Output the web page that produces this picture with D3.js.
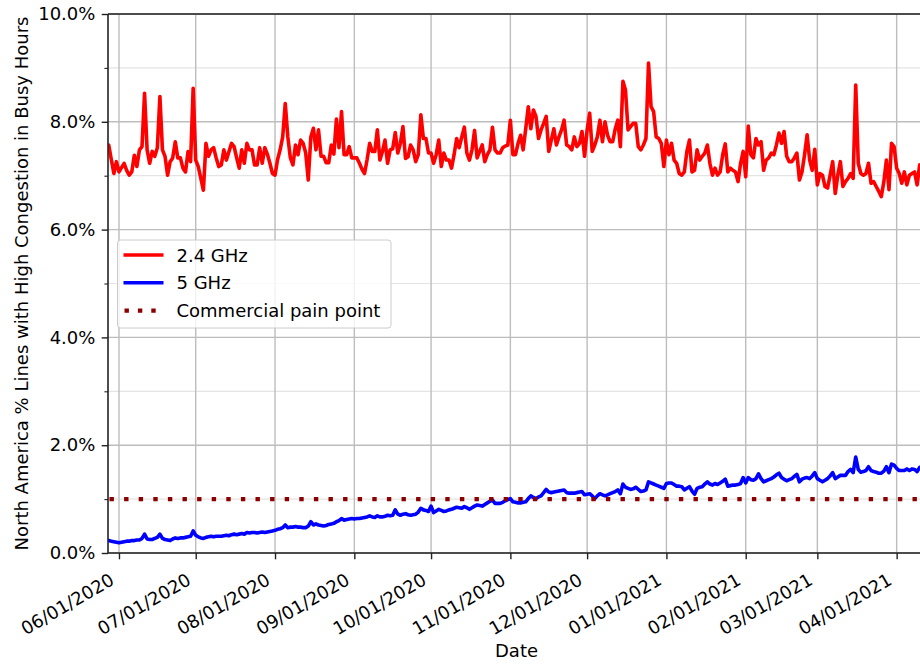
<!DOCTYPE html>
<html>
<head>
<meta charset="utf-8">
<script src="https://cdn.jsdelivr.net/npm/d3@7"></script>
<style>
  html, body { margin: 0; padding: 0; background: #fff; }
  svg { display: block; font-family: "DejaVu Sans", sans-serif; }
</style>
</head>
<body>
<svg id="chart" width="920" height="665"></svg>
<script>
// ---------------- DATA ----------------
const seriesStart = "2020-05-28";          // first daily sample
const axisStart = "2020-05-27T17:00:00Z";  // x-axis limits
const axisEnd = "2021-04-12T02:00:00Z";
const seriesNames = ["2.4 GHz", "5 GHz", "Commercial pain point"];
const yTicks = [0, 2, 4, 6, 8, 10];
const yMinorTicks = [1, 3, 5, 7, 9];
const painPoint = 1.0;

const ghz24 = [
  7.57, 7.30, 7.04, 7.26, 7.07, 7.15, 7.23, 7.10, 7.01, 7.07,
  7.38, 7.17, 7.48, 7.54, 8.53, 7.48, 7.23, 7.45, 7.36, 7.52,
  8.47, 7.48, 7.36, 7.01, 7.26, 7.33, 7.63, 7.33, 7.33, 7.14,
  7.07, 7.45, 7.26, 8.62, 7.29, 7.17, 6.95, 6.73, 7.60, 7.36,
  7.48, 7.52, 7.33, 7.17, 7.20, 7.48, 7.29, 7.45, 7.60, 7.54,
  7.33, 7.14, 7.48, 7.23, 7.60, 7.48, 7.48, 7.20, 7.20, 7.52,
  7.23, 7.52, 7.40, 7.23, 7.04, 7.01, 7.30, 7.48, 7.72, 8.34,
  7.72, 7.33, 7.20, 7.57, 7.39, 7.66, 7.60, 7.42, 6.92, 7.72,
  7.88, 7.48, 7.85, 7.36, 7.36, 7.24, 7.24, 7.57, 7.40, 8.05,
  7.52, 8.19, 7.39, 7.39, 7.54, 7.33, 7.33, 7.33, 7.23, 7.12,
  7.04, 7.30, 7.60, 7.45, 7.45, 7.85, 7.29, 7.45, 7.66, 7.23,
  7.48, 7.50, 7.80, 7.42, 7.60, 7.91, 7.32, 7.35, 7.57, 7.48,
  7.26, 7.39, 8.13, 7.69, 7.69, 7.42, 7.42, 7.23, 7.39, 7.66,
  7.17, 7.42, 7.29, 7.29, 7.14, 7.39, 7.69, 7.52, 7.72, 7.90,
  7.42, 7.29, 7.48, 7.84, 7.33, 7.45, 7.57, 7.26, 7.39, 7.48,
  7.90, 7.48, 7.42, 7.42, 7.52, 7.55, 7.57, 8.03, 7.39, 7.39,
  7.60, 7.75, 7.48, 7.87, 8.28, 7.87, 8.22, 8.10, 7.69, 7.85,
  7.97, 8.10, 7.45, 7.66, 7.87, 7.57, 7.72, 7.85, 8.03, 7.57,
  7.54, 7.48, 7.72, 7.54, 7.60, 7.82, 7.36, 7.85, 8.16, 7.45,
  7.57, 7.72, 8.03, 7.63, 8.00, 7.75, 7.63, 7.63, 7.87, 8.03,
  7.54, 8.75, 8.59, 7.85, 7.91, 7.97, 7.97, 7.54, 7.48, 7.57,
  7.69, 9.09, 8.28, 8.19, 7.72, 7.69, 7.60, 7.17, 7.66, 7.39,
  7.60, 7.29, 7.23, 7.04, 7.01, 7.07, 7.45, 7.66, 7.07, 7.10,
  7.48, 7.29, 7.36, 7.42, 7.57, 7.23, 7.01, 7.14, 7.01, 7.07,
  7.39, 7.59, 7.07, 7.14, 7.10, 7.07, 6.89, 7.23, 7.45, 6.98,
  7.92, 7.39, 7.33, 7.69, 7.57, 7.63, 7.10, 7.29, 7.33, 7.42,
  7.39, 7.57, 7.79, 7.60, 7.82, 7.36, 7.26, 7.26, 7.33, 7.42,
  6.92, 7.07, 7.39, 7.76, 7.29, 7.10, 7.49, 6.83, 7.04, 7.01,
  6.80, 6.77, 7.01, 7.26, 6.67, 7.01, 7.26, 6.80, 6.89, 6.95,
  7.04, 6.95, 8.68, 7.23, 7.04, 7.01, 7.04, 7.23, 6.86, 6.89,
  6.80, 6.71, 6.61, 6.89, 7.29, 6.74, 7.60, 7.54, 7.14, 7.04,
  6.86, 7.07, 6.83, 7.01, 7.04, 7.07, 6.83, 7.20, 7.10
];

const ghz5 = [
  0.23, 0.22, 0.21, 0.20, 0.19, 0.20, 0.21, 0.22, 0.22, 0.23,
  0.23, 0.24, 0.24, 0.27, 0.35, 0.26, 0.25, 0.25, 0.27, 0.29,
  0.35, 0.27, 0.25, 0.24, 0.23, 0.26, 0.28, 0.27, 0.28, 0.28,
  0.29, 0.30, 0.31, 0.41, 0.33, 0.30, 0.28, 0.27, 0.29, 0.30,
  0.31, 0.30, 0.31, 0.31, 0.31, 0.32, 0.33, 0.32, 0.34, 0.35,
  0.34, 0.35, 0.36, 0.35, 0.38, 0.37, 0.38, 0.38, 0.37, 0.38,
  0.39, 0.38, 0.39, 0.40, 0.41, 0.42, 0.44, 0.45, 0.47, 0.52,
  0.47, 0.48, 0.48, 0.49, 0.48, 0.48, 0.47, 0.47, 0.50, 0.58,
  0.52, 0.54, 0.52, 0.51, 0.50, 0.51, 0.53, 0.54, 0.55, 0.58,
  0.60, 0.64, 0.61, 0.62, 0.63, 0.64, 0.63, 0.64, 0.64, 0.65,
  0.66, 0.67, 0.69, 0.67, 0.66, 0.69, 0.67, 0.67, 0.68, 0.70,
  0.69, 0.70, 0.80, 0.72, 0.70, 0.72, 0.73, 0.71, 0.70, 0.71,
  0.72, 0.76, 0.83, 0.80, 0.79, 0.77, 0.87, 0.75, 0.78, 0.81,
  0.79, 0.77, 0.78, 0.80, 0.81, 0.83, 0.85, 0.84, 0.83, 0.86,
  0.84, 0.81, 0.84, 0.87, 0.89, 0.88, 0.87, 0.90, 0.93, 0.96,
  0.98, 0.92, 0.92, 0.92, 0.94, 0.97, 0.99, 1.01, 0.95, 0.94,
  0.93, 0.93, 0.94, 0.95, 1.01, 1.06, 1.03, 1.01, 1.04, 1.06,
  1.12, 1.18, 1.13, 1.12, 1.13, 1.14, 1.15, 1.16, 1.17, 1.12,
  1.11, 1.11, 1.11, 1.12, 1.13, 1.14, 1.08, 1.09, 1.10, 1.06,
  1.01, 1.06, 1.10, 1.08, 1.06, 1.08, 1.10, 1.12, 1.14, 1.17,
  1.10, 1.28, 1.22, 1.20, 1.18, 1.19, 1.22, 1.18, 1.14, 1.15,
  1.17, 1.32, 1.30, 1.28, 1.26, 1.24, 1.22, 1.20, 1.29, 1.30,
  1.30, 1.27, 1.24, 1.24, 1.23, 1.17, 1.20, 1.23, 1.15, 1.09,
  1.20, 1.22, 1.23, 1.28, 1.32, 1.28, 1.26, 1.29, 1.27, 1.30,
  1.33, 1.37, 1.24, 1.25, 1.26, 1.26, 1.27, 1.29, 1.40, 1.30,
  1.40, 1.36, 1.35, 1.38, 1.47, 1.38, 1.32, 1.34, 1.36, 1.38,
  1.41, 1.45, 1.48, 1.40, 1.37, 1.34, 1.36, 1.38, 1.42, 1.46,
  1.32, 1.37, 1.39, 1.40, 1.38, 1.43, 1.49, 1.38, 1.35, 1.32,
  1.35, 1.38, 1.43, 1.49, 1.38, 1.41, 1.44, 1.44, 1.44, 1.51,
  1.55, 1.49, 1.78, 1.55, 1.50, 1.51, 1.53, 1.60, 1.53, 1.51,
  1.50, 1.48, 1.48, 1.52, 1.60, 1.49, 1.65, 1.63, 1.57, 1.53,
  1.53, 1.53, 1.56, 1.53, 1.56, 1.55, 1.51, 1.59, 1.58
];

// ---------------- LAYOUT ----------------
const W = 920, H = 665;
const m = { left: 108, top: 14, right: 925, bottom: 553 };
const FS = 18;
const svg = d3.select("#chart");

const t0 = new Date(seriesStart + "T00:00:00Z");
const dates = ghz24.map((_, i) => d3.utcDay.offset(t0, i));

const x = d3.scaleUtc()
  .domain([new Date(axisStart), new Date(axisEnd)])
  .range([m.left, m.right]);
const y = d3.scaleLinear().domain([0, 10]).range([m.bottom, m.top]);

svg.append("defs").append("clipPath").attr("id", "clip")
  .append("rect").attr("x", m.left).attr("y", m.top)
  .attr("width", m.right - m.left).attr("height", m.bottom - m.top);

const monthTicks = d3.utcMonth.range(new Date(axisStart), new Date(axisEnd));

// grid
const grid = svg.append("g");
grid.selectAll(".ymin").data(yMinorTicks).join("line")
  .attr("x1", m.left).attr("x2", m.right)
  .attr("y1", d => y(d)).attr("y2", d => y(d))
  .attr("stroke", "#e4e4e4").attr("stroke-width", 1.2);
grid.selectAll(".ymaj").data(yTicks).join("line")
  .attr("x1", m.left).attr("x2", m.right)
  .attr("y1", d => y(d)).attr("y2", d => y(d))
  .attr("stroke", "#bdbdbd").attr("stroke-width", 1.4);
grid.selectAll(".xmaj").data(monthTicks).join("line")
  .attr("x1", d => x(d)).attr("x2", d => x(d))
  .attr("y1", m.top).attr("y2", m.bottom)
  .attr("stroke", "#bdbdbd").attr("stroke-width", 1.4);

// lines
const plot = svg.append("g").attr("clip-path", "url(#clip)");
const line = d3.line().x((d, i) => x(dates[i])).y(d => y(d));

plot.append("path").datum(ghz24).attr("d", line)
  .attr("fill", "none").attr("stroke", "#ff0000").attr("stroke-width", 3.6)
  .attr("stroke-linejoin", "round").attr("stroke-linecap", "round");
plot.append("path").datum(ghz5).attr("d", line)
  .attr("fill", "none").attr("stroke", "#0000ff").attr("stroke-width", 3.6)
  .attr("stroke-linejoin", "round").attr("stroke-linecap", "round");
plot.append("line")
  .attr("x1", m.left).attr("x2", m.right)
  .attr("y1", y(painPoint)).attr("y2", y(painPoint))
  .attr("stroke", "#8b0000").attr("stroke-width", 4.4)
  .attr("stroke-dasharray", "4.4 10.2").attr("stroke-dashoffset", -1.5);

// axes
const yAxis = d3.axisLeft(y).tickValues(yTicks).tickSize(6.3).tickPadding(6.3)
  .tickFormat(d => d3.format(".1f")(d) + "%");
const gy = svg.append("g").attr("transform", `translate(${m.left},0)`).call(yAxis);
gy.select(".domain").remove();
gy.selectAll("text").attr("font-size", FS).attr("fill", "#000")
  .attr("font-family", "DejaVu Sans");
gy.selectAll("line").attr("stroke", "#222").attr("stroke-width", 1.4);
const yMinor = d3.axisLeft(y).tickValues(yMinorTicks).tickSize(3.6).tickFormat("");
const gym = svg.append("g").attr("transform", `translate(${m.left},0)`).call(yMinor);
gym.select(".domain").remove();
gym.selectAll("line").attr("stroke", "#222").attr("stroke-width", 1.1);

const xAxis = d3.axisBottom(x).tickValues(monthTicks).tickSize(6.3).tickFormat("");
const gx = svg.append("g").attr("transform", `translate(0,${m.bottom})`).call(xAxis);
gx.select(".domain").remove();
gx.selectAll("line").attr("stroke", "#222").attr("stroke-width", 1.4);

const fmt = d3.utcFormat("%m/%d/%Y");
svg.append("g").selectAll("text").data(monthTicks).join("text")
  .attr("transform", d => `translate(${x(d) - 3.5},${m.bottom + 30.5}) rotate(-30)`)
  .attr("text-anchor", "end").attr("font-size", FS).attr("fill", "#000")
  .text(d => fmt(d));

// spines
svg.append("path")
  .attr("d", `M${m.left},${m.top}V${m.bottom}H${m.right}M${m.left},${m.top}H${m.right}`)
  .attr("fill", "none").attr("stroke", "#222").attr("stroke-width", 1.6);

// axis labels
svg.append("text").attr("x", (m.left + m.right) / 2).attr("y", 657)
  .attr("text-anchor", "middle").attr("font-size", FS).text("Date");
svg.append("text")
  .attr("transform", `translate(28,${(m.top + m.bottom) / 2}) rotate(-90)`)
  .attr("text-anchor", "middle").attr("font-size", FS)
  .text("North America % Lines with High Congestion in Busy Hours");

// legend
const lg = svg.append("g").attr("transform", "translate(117.5,240)");
lg.append("rect").attr("width", 273.5).attr("height", 88).attr("rx", 3)
  .attr("fill", "#fff").attr("fill-opacity", 0.8)
  .attr("stroke", "#cccccc").attr("stroke-width", 1);
const legendStyles = [
  { color: "#ff0000", width: 3.6, dash: null },
  { color: "#0000ff", width: 3.6, dash: null },
  { color: "#8b0000", width: 4.4, dash: "4.4 9" }
];
seriesNames.forEach((name, i) => {
  const cy = 15 + i * 27.8;
  const st = legendStyles[i];
  const l = lg.append("line").attr("x1", 6).attr("x2", 46).attr("y1", cy).attr("y2", cy)
    .attr("stroke", st.color).attr("stroke-width", st.width);
  if (st.dash) l.attr("stroke-dasharray", st.dash).attr("x1", 7);
  lg.append("text").attr("x", 59).attr("y", cy + 6.5)
    .attr("font-size", FS).attr("fill", "#000").text(name);
});
</script>
</body>
</html>
